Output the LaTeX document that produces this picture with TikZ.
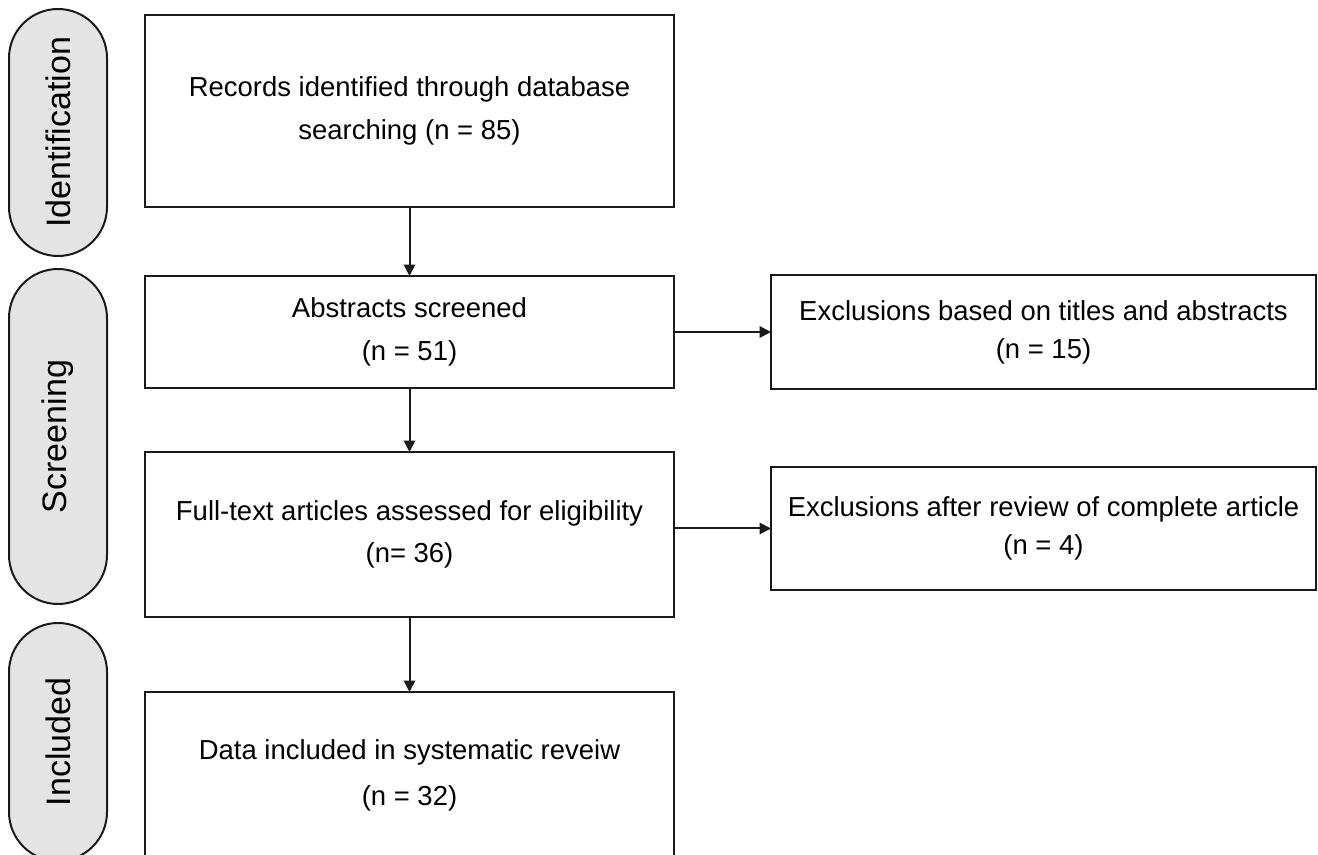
\documentclass[tikz,border=0pt]{standalone}
\usepackage{fontspec}
\setmainfont{Liberation Sans}
\usetikzlibrary{arrows.meta,positioning,calc}
\definecolor{pillGray}{HTML}{E4E4E4}
\definecolor{inkBlack}{HTML}{1A1A1A}

\tikzset{
  stagebox/.style={draw=inkBlack,line width=2pt,align=center,minimum width=396.75pt,
    inner sep=0pt,outer sep=0pt,font=\fontsize{20.6pt}{32pt}\selectfont},
  exclbox/.style={stagebox,minimum width=408.75pt,font=\fontsize{20.6pt}{28.5pt}\selectfont},
  phase/.style={draw=inkBlack,fill=pillGray,line width=1.5pt,rounded corners=36.75pt,rotate=90,
    minimum height=73.5pt,inner sep=0pt,font=\fontsize{25.5pt}{30pt}\selectfont},
  flow/.style={-{Triangle[length=8.5pt,width=8.5pt]},line width=1.5pt,inkBlack}
}

\begin{document}
\begin{tikzpicture}[x=0.75pt,y=-0.75pt]
  \clip (0,0) rectangle (1318,855);
  % phases on the left
  \node[phase,minimum width=185.25pt] (ident) at (58,132.5) {Identification};
  \node[phase,minimum width=251.25pt] (screen) at (58,436.5) {Screening};
  \node[phase,minimum width=178.5pt] (incld) at (58,742) {Included};
  % main column
  \node[stagebox,minimum height=144pt] (rec) at (409.5,111)
    {Records identified through database\\searching (n = 85)};
  \node[stagebox,minimum height=84pt,below=51.75pt of rec] (abs)
    {Abstracts screened\\(n = 51)};
  \node[stagebox,minimum height=123.75pt,below=48pt of abs] (full)
    {Full-text articles assessed for eligibility\\(n= 36)};
  \node[stagebox,minimum height=125.25pt,below=56.25pt of full,
    font=\fontsize{20.6pt}{34.5pt}\selectfont] (incl)
    {Data included in systematic reveiw\\(n = 32)};
  % exclusions
  \node[exclbox,minimum height=85.5pt,right=72.75pt of abs] (exa)
    {Exclusions based on titles and abstracts\\(n = 15)};
  \node[exclbox,minimum height=92.25pt,right=72.75pt of full,yshift=4.5pt] (exf)
    {Exclusions after review of complete article\\(n = 4)};
  \draw[flow] (rec) -- (abs);
  \draw[flow] (abs) -- (full);
  \draw[flow] (full) -- (incl);
  \draw[flow] (abs.east) -- (abs.east -| exa.west);
  \draw[flow] (full.east |- exf.west) -- (exf.west);
\end{tikzpicture}
\end{document}
